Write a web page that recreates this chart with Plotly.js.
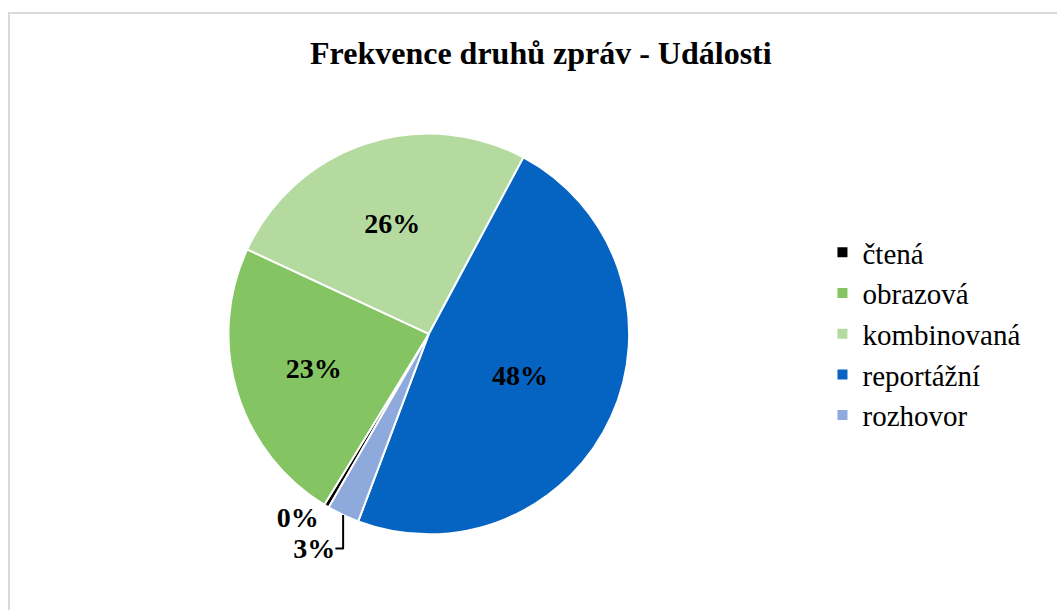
<!DOCTYPE html>
<html>
<head>
<meta charset="utf-8">
<script src="https://cdn.plot.ly/plotly-3.0.1.min.js"></script>
<style>
html, body { margin: 0; padding: 0; background: #fff; overflow: hidden; }
#frame { position: absolute; left: 8px; top: 12px; width: 1049px; height: 610px; border-left: 2px solid #d9d9d9; border-top: 2px solid #d9d9d9; box-sizing: border-box; }
#chart { position: absolute; left: 0; top: 0; width: 1047px; height: 598px; }
</style>
</head>
<body>
<div id="frame"><div id="chart"></div></div>
<script>
const categories = ["čtená", "obrazová", "kombinovaná", "reportážní", "rozhovor"];
const values = [0.4, 23.2, 25.9, 47.9, 2.6];
const colors = ["#000000", "#84C462", "#B4DAA0", "#0563C1", "#8EA9DB"];
const title = "Frekvence druhů zpráv - Události";

const FONT = "Liberation Serif, Times New Roman, serif";

const trace = {
  type: "pie",
  labels: categories,
  values: values,
  sort: false,
  direction: "clockwise",
  rotation: 210,
  marker: { colors: colors, line: { color: "#ffffff", width: 2 } },
  textinfo: "percent",
  texttemplate: "%{percent:.0%}",
  textposition: ["outside", "inside", "inside", "inside", "outside"],
  insidetextorientation: "horizontal",
  textfont: { family: FONT, size: 28, color: "#000000", weight: "bold" },
  insidetextfont: { family: FONT, size: 28, color: "#000000", weight: "bold" },
  outsidetextfont: { family: FONT, size: 28, color: "#000000", weight: "bold" },
  hoverinfo: "skip",
  domain: { x: [0.2, 0.6], y: [0.13, 0.8] },
  automargin: false
};

const layout = {
  width: 1047,
  height: 598,
  margin: { l: 0, r: 0, t: 0, b: 0 },
  paper_bgcolor: "#ffffff",
  title: {
    text: "<b>" + title + "</b>",
    x: 0.507, xanchor: "center",
    y: 0.935, yanchor: "middle",
    font: { family: FONT, size: 32, color: "#000000" }
  },
  showlegend: true,
  legend: {
    x: 0.776, xanchor: "left",
    y: 0.465, yanchor: "middle",
    font: { family: FONT, size: 29, color: "#000000" },
    tracegroupgap: 0,
    itemwidth: 30,
    bgcolor: "rgba(0,0,0,0)"
  }
};

Plotly.newPlot("chart", [trace], layout, { displayModeBar: false, staticPlot: true });
</script>
</body>
</html>
